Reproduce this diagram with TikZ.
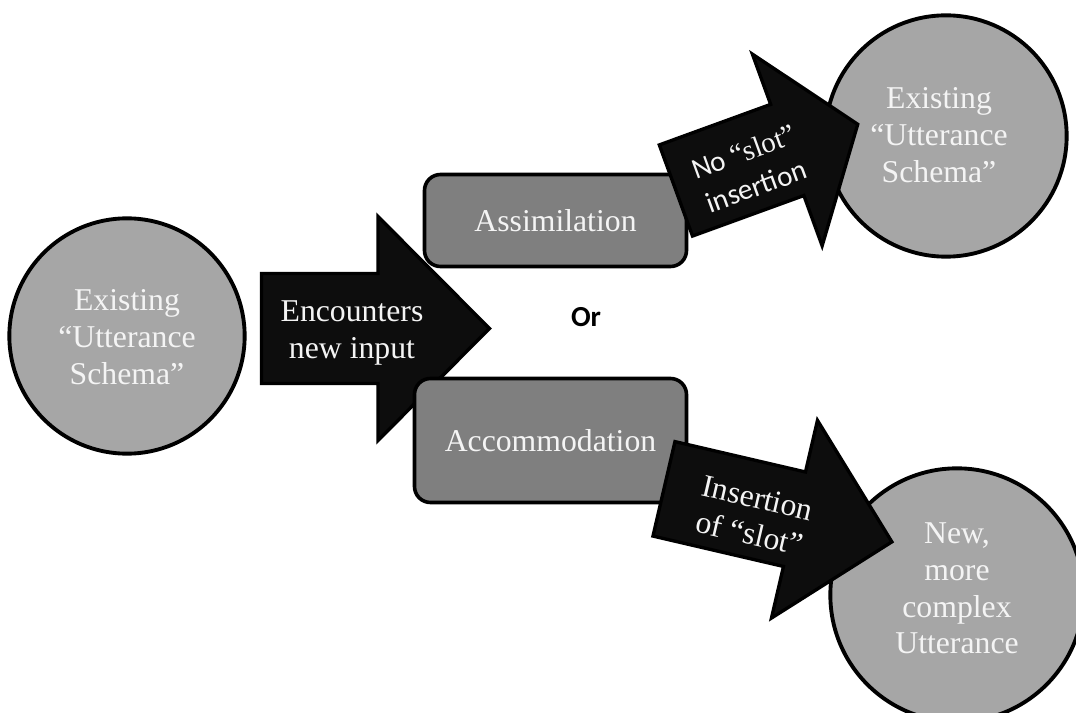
\documentclass[tikz,border=0pt]{standalone}
\usepackage{fontspec}
\setmainfont{Liberation Serif}
\newfontfamily\calibri{Carlito}
\definecolor{circfill}{HTML}{A6A6A6}
\definecolor{boxfill}{HTML}{7F7F7F}
\definecolor{arrfill}{HTML}{0D0D0D}
\definecolor{txtw}{HTML}{F4F4F4}
\begin{document}
\begin{tikzpicture}[x=0.75pt,y=-0.75pt,
  bubble/.style={circle,draw=black,line width=2.9pt,fill=circfill,inner sep=0pt},
  stagebox/.style={rectangle,rounded corners=12pt,draw=black,line width=2.7pt,fill=boxfill,inner sep=0pt,
    text=txtw,font=\fontsize{23.8}{27.5}\selectfont},
  blockarrow/.style={draw=black,line width=2.5pt,fill=arrfill,line join=miter},
  wtext/.style={text=txtw,align=center,inner sep=0pt,font=\fontsize{23.8}{27.5}\selectfont},
  stext/.style={text=txtw,align=center,inner sep=0pt,font=\calibri\fontsize{21.8}{27.5}\selectfont}]
\useasboundingbox (0,0) rectangle (1076,713);

% circles
\node[bubble,minimum size=176.5pt] (s1) at (127,336) {};
\node[bubble,minimum size=181pt] (s2) at (946,136) {};
\node[bubble,minimum size=190pt] (s3) at (957,595) {};

% main arrow
\begin{scope}[shift={(261.5,328.5)}]
  \coordinate (enc) at (0,0);
  \draw[blockarrow] (0,-55) -- (116.5,-55) -- (116.5,-112) -- (228,0) -- (116.5,112) -- (116.5,55) -- (0,55) -- cycle;
  \node[wtext] (enctext) at (90.5,4.5) {Encounters\\new input};
\end{scope}

% boxes
\node[stagebox,minimum width=196.5pt,minimum height=69pt] (assim) at (555.5,220.5) {Assimilation};
\node[stagebox,minimum width=204pt,minimum height=93pt] (accom) at (550.5,440.5) {Accommodation};

% or
\node[font=\calibri\bfseries\fontsize{21.8}{26}\selectfont,inner sep=0pt] (or) at (586,317.5) {Or};

% top arrow
\begin{scope}[shift={(674.5,191)},rotate=20]
  \coordinate (noins) at (0,0);
  \draw[blockarrow] (1.5,-48.5) -- (120,-48.5) -- (120,-102) -- (195,0) -- (120,102) -- (120,48.5) -- (1.5,48.5) -- cycle;
  \node[stext,rotate=20] (noinstext) at (78.5,5) {No {\rmfamily\fontsize{21.8}{27.5}\selectfont “slot”}\\insertion};
\end{scope}

% bottom arrow
\begin{scope}[shift={(662.5,488.5)},rotate=-13.1]
  \coordinate (ins) at (0,0);
  \draw[blockarrow] (1.5,-48.5) -- (135.5,-48.5) -- (135.5,-101.5) -- (235.5,0) -- (135.5,101.5) -- (135.5,48.5) -- (1.5,48.5) -- cycle;
  \node[wtext,rotate=-13.1] (instext) at (95,6) {Insertion\\of “slot”};
\end{scope}

% circle texts
\node[wtext] (t1) at (127,337) {Existing\\“Utterance\\Schema”};
\node[wtext] (t2) at (939,135) {Existing\\“Utterance\\Schema”};
\node[wtext] (t3) at (957,588.5) {New,\\more\\complex\\Utterance};
\end{tikzpicture}
\end{document}
